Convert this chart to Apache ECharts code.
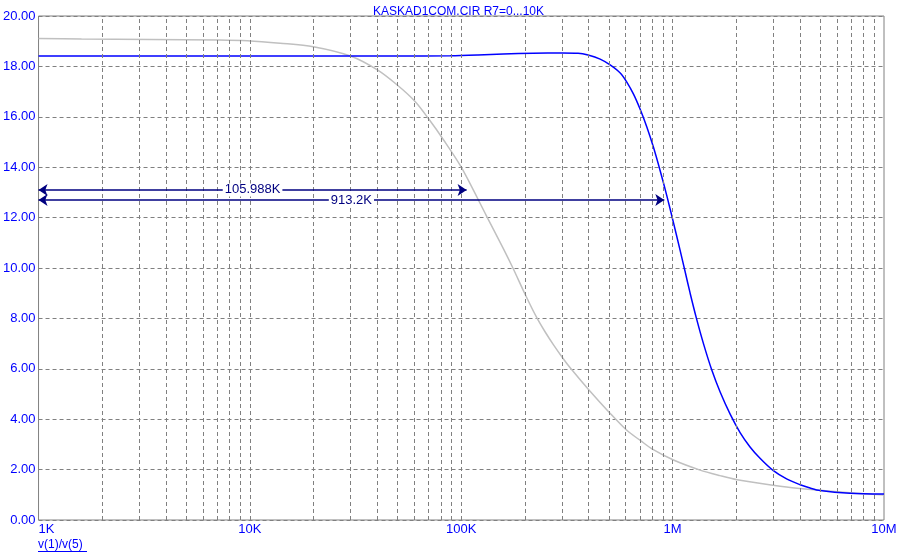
<!DOCTYPE html>
<html>
<head>
<meta charset="utf-8">
<script src="https://cdn.jsdelivr.net/npm/echarts@6/dist/echarts.min.js"></script>
<style>
html,body{margin:0;padding:0;background:#fff;}
#chart{width:917px;height:554px;}
</style>
</head>
<body>
<div id="chart"></div>
<script>
var titleText = 'KASKAD1COM.CIR R7=0...10K';
var traceLabel = 'v(1)/v(5)';
var xTickValues = [1e3, 1e4, 1e5, 1e6, 1e7];
var xTickLabels = ['1K', '10K', '100K', '1M', '10M'];
var xDecades = [1e3, 1e4, 1e5, 1e6];
var xMinorMultipliers = [2, 3, 4, 5, 6, 7, 8, 9];

// blue trace
var blueFreq = [1000, 10000, 50000, 88700, 120000, 158000, 219000, 300000, 357000, 398000, 454000, 506000, 565000, 607000, 653000, 702000, 755000, 811000, 873000, 939000, 1009000, 1085000, 1146000, 1210000, 1301000, 1399000, 1532000, 1678000, 1871000, 2085000, 2324000, 2591000, 2986000, 3478000, 4010000, 4470000, 4980000, 6900000, 10000000];
var blueVal  = [18.41, 18.41, 18.41, 18.42, 18.45, 18.49, 18.52, 18.53, 18.52, 18.45, 18.29, 18.06, 17.74, 17.38, 16.9, 16.3, 15.6, 14.8, 13.86, 12.86, 11.8, 10.7, 9.85, 9.0, 7.95, 7.0, 5.95, 5.08, 4.2, 3.47, 2.9, 2.45, 1.97, 1.62, 1.4, 1.27, 1.17, 1.06, 1.03];

// gray trace
var grayFreq = [1000, 1597, 3390, 7100, 9730, 13900, 19950, 29900, 40100, 49800, 60600, 69800, 82500, 100000, 131000, 158600, 175500, 200700, 226300, 249500, 273200, 302600, 327600, 400000, 502800, 607000, 707400, 806200, 1009000, 1349000, 1678000, 2018000, 2986000, 3878000, 6900000, 10000000];
var grayVal  = [19.11, 19.09, 19.07, 19.05, 19.02, 18.92, 18.78, 18.41, 17.86, 17.26, 16.6, 15.94, 15.08, 14.0, 12.1, 10.75, 10.0, 8.95, 8.07, 7.46, 6.95, 6.42, 6.04, 5.18, 4.26, 3.56, 3.14, 2.8, 2.38, 1.98, 1.76, 1.6, 1.38, 1.26, 1.08, 0.99];

// dimension annotations
var annoLabels = ['105.988K', '913.2K'];
var annoStart = [1000, 1000];
var annoEnd = [105988, 913200];
var annoY = [13.1, 12.7];

var FONT = '"Liberation Sans", Arial, sans-serif';
var BLUE = '#0000ff';
var NAVY = '#000080';
var GRIDC = '#808080';

function zip(a, b) { return a.map(function (v, i) { return [v, b[i]]; }); }

var gridX = [];
xDecades.forEach(function (d, di) {
  xMinorMultipliers.forEach(function (m) { gridX.push(d * m); });
  if (di > 0) gridX.push(d);
});

var chart = echarts.init(document.getElementById('chart'), null, {renderer: 'canvas'});
chart.setOption({
  animation: false,
  backgroundColor: '#ffffff',
  title: {
    text: titleText, left: 'center', top: 1,
    textStyle: {color: BLUE, fontSize: 12, fontWeight: 'normal', fontFamily: FONT}
  },
  grid: {left: 38, right: 33, top: 16, bottom: 34, show: true, borderColor: GRIDC, borderWidth: 1, backgroundColor: 'transparent'},
  xAxis: {
    type: 'log', logBase: 10, min: 1000, max: 10000000, interval: 1,
    axisLine: {show: false}, axisTick: {show: false},
    splitLine: {show: false}, minorTick: {show: false}, minorSplitLine: {show: false},
    axisLabel: {
      color: BLUE, fontSize: 13, fontFamily: FONT, margin: 3,
      showMinLabel: true, showMaxLabel: true, alignMinLabel: 'left',
      formatter: function (v) {
        for (var i = 0; i < xTickValues.length; i++) {
          if (Math.abs(v - xTickValues[i]) / xTickValues[i] < 1e-6) return xTickLabels[i];
        }
        return '';
      }
    }
  },
  yAxis: {
    type: 'value', min: 0, max: 20, interval: 2,
    axisLine: {show: false}, axisTick: {show: false},
    splitLine: {show: true, lineStyle: {color: GRIDC, width: 1, type: [4, 3]}},
    axisLabel: {color: BLUE, fontSize: 13, fontFamily: FONT, margin: 3, formatter: function (v) { return v.toFixed(2); }}
  },
  graphic: [
    {type: 'text', left: 38, top: 539, style: {text: traceLabel, fill: BLUE, fontSize: 12, fontFamily: FONT}},
    {type: 'line', shape: {x1: 38, y1: 551.5, x2: 87, y2: 551.5}, style: {stroke: BLUE, lineWidth: 1}}
  ],
  series: [
    {
      type: 'line', data: [], z: 1, silent: true,
      markLine: {
        silent: true, symbol: ['none', 'none'], animation: false,
        label: {show: false},
        lineStyle: {color: GRIDC, width: 1, type: [4, 3]},
        emphasis: {disabled: true},
        data: gridX.map(function (v) { return {xAxis: v}; })
      }
    },
    {
      name: 'gray', type: 'line', z: 3, showSymbol: false, smooth: 0.3,
      lineStyle: {color: '#c0c0c0', width: 1.5}, itemStyle: {color: '#c0c0c0'},
      data: zip(grayFreq, grayVal)
    },
    {
      name: 'blue', type: 'line', z: 4, showSymbol: false, smooth: 0.3,
      lineStyle: {color: BLUE, width: 1.5}, itemStyle: {color: BLUE},
      data: zip(blueFreq, blueVal)
    },
    {
      type: 'line', data: [], z: 5, silent: true,
      markLine: {
        silent: true, animation: false,
        symbol: ['arrow', 'arrow'], symbolSize: [9, 9],
        lineStyle: {color: NAVY, width: 1.5, type: 'solid'},
        label: {
          show: true, position: 'middle', formatter: '{b}', distance: 0,
          color: NAVY, fontSize: 13, fontFamily: FONT,
          backgroundColor: '#ffffff', padding: [0, 2, 0, 2], verticalAlign: 'middle'
        },
        emphasis: {disabled: true},
        data: annoLabels.map(function (t, i) {
          return [{coord: [annoStart[i], annoY[i]], name: t}, {coord: [annoEnd[i], annoY[i]]}];
        })
      }
    }
  ]
});
</script>
</body>
</html>
